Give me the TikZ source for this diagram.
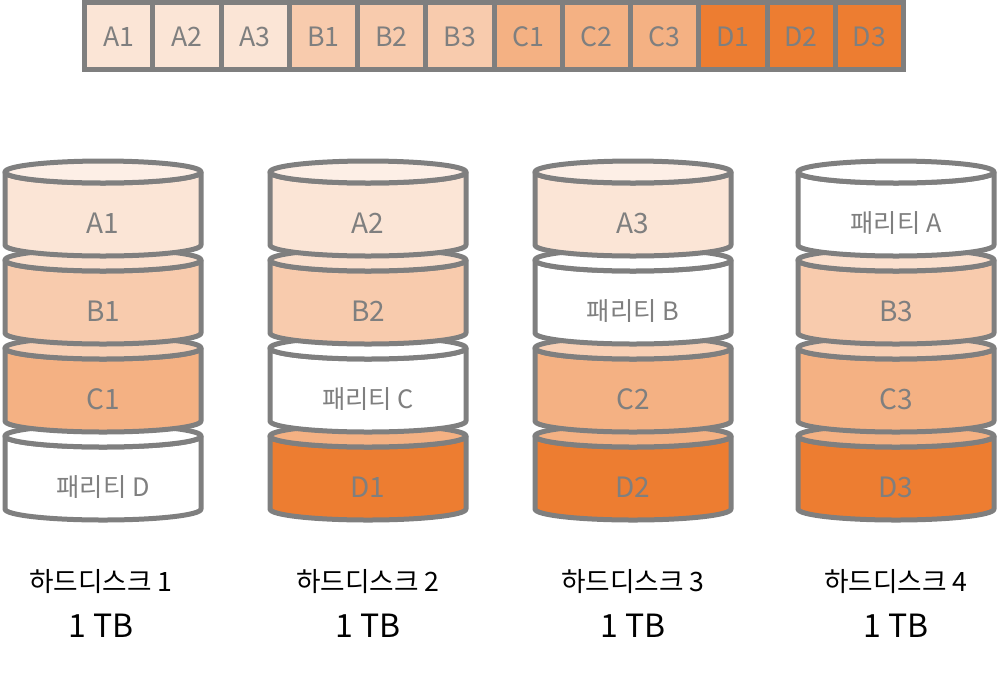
\documentclass[tikz,border=0pt]{standalone}
\usepackage{fontspec}
\setmainfont{Noto Sans CJK KR}
\definecolor{cA}{HTML}{FBE5D6}
\definecolor{cB}{HTML}{F8CBAD}
\definecolor{cC}{HTML}{F4B183}
\definecolor{cD}{HTML}{ED7D31}
\definecolor{cP}{HTML}{FFFFFF}
\definecolor{gr}{HTML}{7F7F7F}
\tikzset{
  outl/.style={draw=gr, line width=3.75pt, line join=round},
  seglbl/.style={text=gr, font=\fontsize{21}{23}\selectfont, inner sep=0pt},
  parlbl/.style={text=gr, font=\fontsize{19}{21}\selectfont, inner sep=0pt},
  celllbl/.style={text=gr, font=\fontsize{20}{22}\selectfont, inner sep=0pt},
  disklbl/.style={text=black, font=\fontsize{20}{22}\selectfont, inner sep=0pt},
  sizelbl/.style={text=black, font=\fontsize{24}{26}\selectfont, inner sep=0pt},
}
% #1 cx, #2 top y, #3 colour, #4 node name, #5 label, #6 label style
\newcommand\dseg[6]{%
  \filldraw[outl, fill=#3] (#1-98,#2) -- (#1-98,#2+73)
     arc[start angle=180, end angle=0, x radius=98, y radius=11]
     -- (#1+98,#2)
     arc[start angle=0, end angle=180, x radius=98, y radius=11] -- cycle;
  \filldraw[outl, fill=#3!60!white] (#1,#2) ellipse[x radius=98, y radius=11];
  \node[#6] (#4) at (#1,#2+51) {#5};
}
\begin{document}
\begin{tikzpicture}[x=0.75pt, y=-0.75pt]
\useasboundingbox (0,0) rectangle (998,672);
% top stripe
\foreach \lbl/\col [count=\i from 0] in {A1/cA,A2/cA,A3/cA,B1/cB,B2/cB,B3/cB,C1/cC,C2/cC,C3/cC,D1/cD,D2/cD,D3/cD}{
  \draw[outl, line join=miter, fill=\col] (84.5+68.25*\i,2.5) rectangle (84.5+68.25*\i+68.25,69.5);
  \node[celllbl] (cell\lbl) at (84.5+68.25*\i+34.1,37) {\lbl};
}
% disk 1
\dseg{103}{436}{cP}{d1s4}{패리티 D}{parlbl}
\dseg{103}{348}{cC}{d1s3}{C1}{seglbl}
\dseg{103}{260}{cB}{d1s2}{B1}{seglbl}
\dseg{103}{172}{cA}{d1s1}{A1}{seglbl}
% disk 2
\dseg{368}{436}{cD}{d2s4}{D1}{seglbl}
\dseg{368}{348}{cP}{d2s3}{패리티 C}{parlbl}
\dseg{368}{260}{cB}{d2s2}{B2}{seglbl}
\dseg{368}{172}{cA}{d2s1}{A2}{seglbl}
% disk 3
\dseg{633}{436}{cD}{d3s4}{D2}{seglbl}
\dseg{633}{348}{cC}{d3s3}{C2}{seglbl}
\dseg{633}{260}{cP}{d3s2}{패리티 B}{parlbl}
\dseg{633}{172}{cA}{d3s1}{A3}{seglbl}
% disk 4
\dseg{896}{436}{cD}{d4s4}{D3}{seglbl}
\dseg{896}{348}{cC}{d4s3}{C3}{seglbl}
\dseg{896}{260}{cB}{d4s2}{B3}{seglbl}
\dseg{896}{172}{cP}{d4s1}{패리티 A}{parlbl}
% captions
\node[disklbl] (cap1) at (101,582) {하드디스크 1};
\node[sizelbl] (sz1) at (101,626) {1 TB};
\node[disklbl] (cap2) at (368,582) {하드디스크 2};
\node[sizelbl] (sz2) at (368,626) {1 TB};
\node[disklbl] (cap3) at (633,582) {하드디스크 3};
\node[sizelbl] (sz3) at (633,626) {1 TB};
\node[disklbl] (cap4) at (896,582) {하드디스크 4};
\node[sizelbl] (sz4) at (896,626) {1 TB};
\end{tikzpicture}
\end{document}
